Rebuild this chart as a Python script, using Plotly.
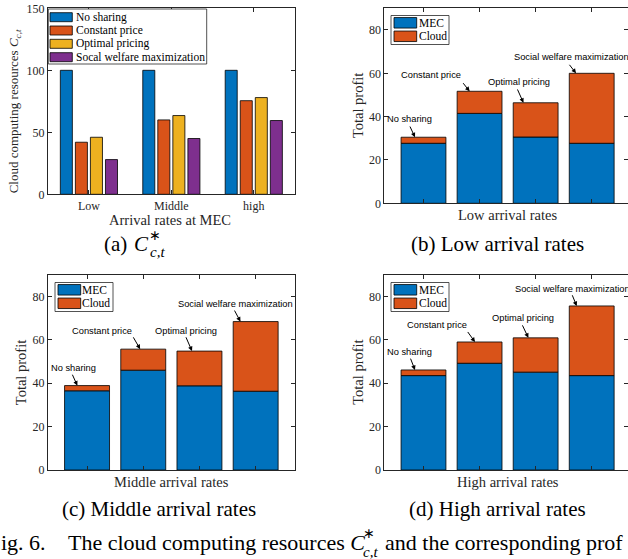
import plotly.graph_objects as go

# ---------------- data ----------------
arrival_levels = ["Low", "Middle", "high"]
resource_names = ["No sharing", "Constant price", "Optimal pricing", "Socal welfare maximization"]
no_sharing_res = [100, 100, 100]
constant_price_res = [42, 60, 75.5]
optimal_pricing_res = [46, 63.5, 78]
social_welfare_res = [28, 45, 59.5]
resource_ticks = [0, 50, 100, 150]

schemes = ["No sharing", "Constant price", "Optimal pricing", "Social welfare maximization"]
profit_parts = ["MEC", "Cloud"]
mec_low = [27.7, 41.5, 30.6, 27.7]
cloud_low = [2.8, 10.2, 15.8, 32.3]
mec_middle = [36.5, 46.0, 38.8, 36.3]
cloud_middle = [2.4, 9.7, 16.0, 32.1]
mec_high = [43.5, 49.2, 45.1, 43.5]
cloud_high = [2.6, 9.8, 15.8, 32.1]
profit_titles = ["Low arrival rates", "Middle arrival rates", "High arrival rates"]
profit_ticks = [0, 20, 40, 60, 80]

# ---------------- styling ----------------
W, H = 628, 559
def fx(px):
    return px / W
def fy(py):
    return 1 - py / H

BLUE, ORANGE, YELLOW, PURPLE = "#0072BD", "#D95319", "#EDB120", "#7E2F8E"
resource_colors = [BLUE, ORANGE, YELLOW, PURPLE]
part_colors = [BLUE, ORANGE]
AX = "#262626"
SERIF = "Liberation Serif"
SANS = "Liberation Sans"

axis_common = dict(showline=True, linecolor=AX, linewidth=0.8, ticks="inside", ticklen=4,
                   tickwidth=0.8, tickcolor=AX, mirror="allticks", showgrid=False,
                   zeroline=False, fixedrange=True, automargin=False,
                   tickfont=dict(family=SERIF, size=12, color=AX))

fig = go.Figure()

# panel (a): grouped bars
cat_pos = list(range(1, len(arrival_levels) + 1))
for name, vals, col in zip(resource_names,
                           [no_sharing_res, constant_price_res, optimal_pricing_res, social_welfare_res],
                           resource_colors):
    fig.add_trace(go.Bar(x=cat_pos, y=vals, name=name, xaxis="x", yaxis="y",
                         marker=dict(color=col, line=dict(color="black", width=0.8))))

# panels (b)-(d): stacked bars
bar_pos = list(range(1, len(schemes) + 1))
panels = [("x2", "y2", mec_low, cloud_low),
          ("x3", "y3", mec_middle, cloud_middle),
          ("x4", "y4", mec_high, cloud_high)]
for xa, ya, mec, cloud in panels:
    fig.add_trace(go.Bar(x=bar_pos, y=mec, name=profit_parts[0], xaxis=xa, yaxis=ya,
                         offsetgroup=xa, width=0.8, offset=-0.4,
                         marker=dict(color=part_colors[0], line=dict(color="black", width=0.8))))
    fig.add_trace(go.Bar(x=bar_pos, y=cloud, base=mec, name=profit_parts[1], xaxis=xa, yaxis=ya,
                         offsetgroup=xa, width=0.8, offset=-0.4,
                         marker=dict(color=part_colors[1], line=dict(color="black", width=0.8))))

# callout placement (head x shift in data units; tail ax, ay px; text dx, dy px)
callout_style = {
    "x2": [(-0.152, -5.7, -12.2, -5, 18.2), (-0.178, -7.6, -9.6, -38.1, 16.3),
           (-0.218, -6.6, -14.8, -4.1, 21.1), (-0.28, -7.7, -10, -4.1, 16.6)],
    "x3": [(-0.173, -5.6, -12.4, -4, 17.4), (-0.055, -7.7, -13.3, -38.3, 18.3),
           (-0.132, -6.7, -15.3, -5.7, 20.3), (-0.271, -6.7, -12.5, -5, 17.5)],
    "x4": [(-0.152, -5, -12.8, -5, 18.4), (-0.082, -8.3, -11.5, -37.8, 17.2),
           (-0.13, -6.6, -14, -5.3, 20.3), (-0.268, -5, -12.2, -4.4, 17.2)],
}

annotations = []
shapes = []
for xa, ya, mec, cloud in panels:
    for i, label in enumerate(schemes):
        hdx, tax, tay, tdx, tdy = callout_style[xa][i]
        total = mec[i] + cloud[i]
        annotations.append(dict(xref=xa, yref=ya, x=bar_pos[i] + hdx, y=total, text="",
                                showarrow=True, ax=tax, ay=tay, arrowhead=2, arrowsize=0.9,
                                arrowwidth=1, arrowcolor="black"))
        annotations.append(dict(xref=xa, yref=ya, x=bar_pos[i] + hdx, y=total, text=label,
                                showarrow=False, xshift=tdx, yshift=tdy,
                                font=dict(family=SANS, size=9.3, color="black")))

def paper_text(text, x, y, size, angle=0, xanchor="center", family=SERIF, color=AX):
    annotations.append(dict(xref="paper", yref="paper", x=fx(x), y=fy(y), text=text,
                            showarrow=False, textangle=angle, xanchor=xanchor, yanchor="middle",
                            font=dict(family=family, size=size, color=color)))

def legend_box(x0, y0, x1, y1, names, colors, row_centers, sw_x0, sw_x1, sw_h, text_x):
    shapes.append(dict(type="rect", xref="paper", yref="paper", x0=fx(x0), x1=fx(x1),
                       y0=fy(y1), y1=fy(y0), fillcolor="white",
                       line=dict(color=AX, width=0.8), layer="above"))
    for name, col, cy in zip(names, colors, row_centers):
        shapes.append(dict(type="rect", xref="paper", yref="paper", x0=fx(sw_x0), x1=fx(sw_x1),
                           y0=fy(cy + sw_h / 2), y1=fy(cy - sw_h / 2), fillcolor=col,
                           line=dict(color="black", width=0.8), layer="above"))
        paper_text(name, text_x, cy, 11.5, xanchor="left", color="black")

# legends
legend_box(48.3, 9, 206.7, 64, resource_names, resource_colors,
           [17.2, 30.5, 43.8, 57.2], 50, 72.3, 9, 73.5)
legend_box(391, 15.5, 449, 44.5, profit_parts, part_colors, [22.8, 36.3], 394, 416.7, 10.5, 416.8)
legend_box(55, 282.5, 113, 311.5, profit_parts, part_colors, [289.8, 303.3], 58, 80.7, 10.5, 79.8)
legend_box(391, 282.5, 449, 311.5, profit_parts, part_colors, [289.8, 303.3], 394, 416.7, 10.5, 416.8)

# axis titles
paper_text("Cloud computing resources <i>C</i><sub><i>c,t</i></sub>", 15.3, 111, 13, angle=-90)
paper_text("Arrival rates at MEC", 170, 220, 14.5)
paper_text("Total profit", 357.3, 105.8, 14.5, angle=-90)
paper_text(profit_titles[0], 507.5, 215, 14.5)
paper_text("Total profit", 20.7, 372.5, 14.5, angle=-90)
paper_text(profit_titles[1], 171, 482, 14.5)
paper_text("Total profit", 357.3, 372.5, 14.5, angle=-90)
paper_text(profit_titles[2], 507.5, 482, 14.5)

# sub-figure captions
paper_text("(a)", 115.5, 244, 21, color="black")
paper_text("<i>C</i>", 141, 244, 21, color="black")
paper_text("\u2217", 155, 235, 14, color="black")
paper_text("<i>c,t</i>", 147.5, 252, 15, xanchor="left", color="black")
paper_text("(b) Low arrival rates", 497, 244, 21, color="black")
paper_text("(c) Middle arrival rates", 158.8, 509, 21, color="black")
paper_text("(d) High arrival rates", 497, 509, 21, color="black")

# figure caption (cropped)
paper_text("ig. 6.", -1, 542, 22, xanchor="left", color="black")
paper_text("The cloud computing resources <i>C</i>", 65.7, 542, 22, xanchor="left", color="black")
paper_text("\u2217", 369, 533, 14, color="black")
paper_text("<i>c,t</i>", 361, 552, 15, xanchor="left", color="black")
paper_text("and the corresponding prof", 383, 542, 22, xanchor="left", color="black")

fig.update_layout(
    width=W, height=H, autosize=False,
    margin=dict(l=0, r=0, t=0, b=0, pad=0, autoexpand=False),
    paper_bgcolor="white", plot_bgcolor="white",
    font=dict(family=SERIF, color=AX),
    barmode="group", bargap=0.27, bargroupgap=0.2,
    showlegend=False,
    xaxis=dict(domain=[fx(47.7), fx(295)], range=[0.5, 3.5], tickvals=cat_pos,
               ticktext=arrival_levels, anchor="y", **axis_common),
    yaxis=dict(domain=[fy(194.3), fy(8.3)], range=[0, 150], tickvals=resource_ticks,
               anchor="x", **axis_common),
    xaxis2=dict(domain=[fx(384.25), 1], range=[0.3, 0.3 + (W - 384.25) / 56.07],
                tickvals=bar_pos, showticklabels=False, anchor="y2", **axis_common),
    yaxis2=dict(domain=[fy(203.3), fy(8.3)], range=[0, 90], tickvals=profit_ticks,
                anchor="x2", **axis_common),
    xaxis3=dict(domain=[fx(47.7), fx(295)], range=[0.3, 4.7], tickvals=bar_pos,
                showticklabels=False, anchor="y3", **axis_common),
    yaxis3=dict(domain=[fy(470), fy(274.7)], range=[0, 90], tickvals=profit_ticks,
                anchor="x3", **axis_common),
    xaxis4=dict(domain=[fx(384.25), 1], range=[0.3, 0.3 + (W - 384.25) / 56.07],
                tickvals=bar_pos, showticklabels=False, anchor="y4", **axis_common),
    yaxis4=dict(domain=[fy(470), fy(274.7)], range=[0, 90], tickvals=profit_ticks,
                anchor="x4", **axis_common),
    annotations=annotations,
    shapes=shapes,
)

fig.write_html("out.html", config=dict(displayModeBar=False),
               post_script="document.body.style.margin='0px';"
                           "document.body.style.overflow='hidden';")
